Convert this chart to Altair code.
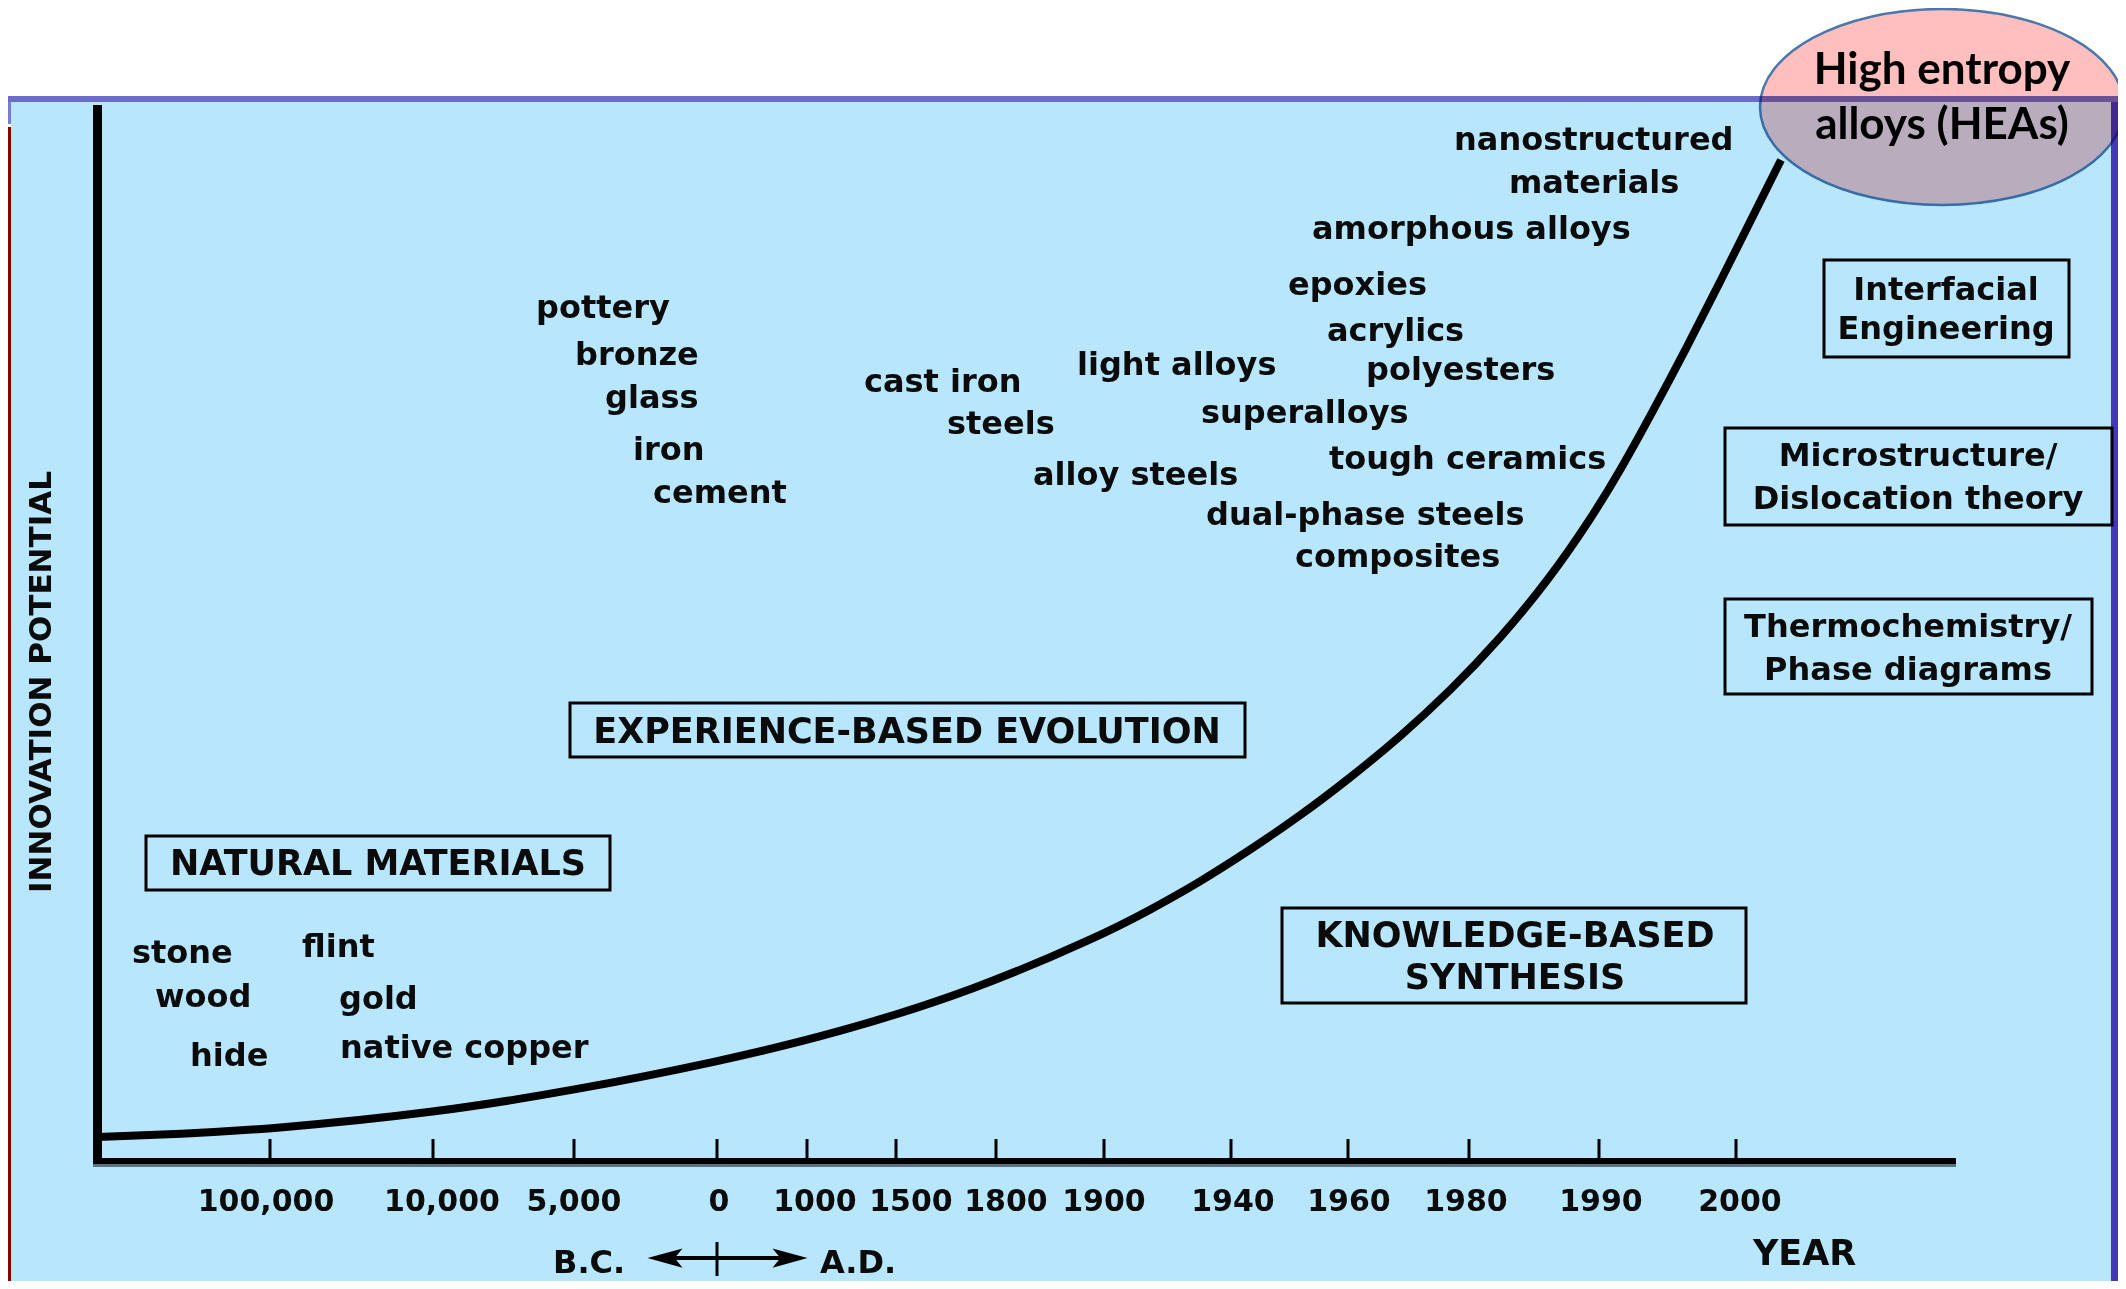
import altair as alt
import pandas as pd

# ---------------- data (positions on the diagram, in reference-picture units) -------------
tick_labels = ["100,000", "10,000", "5,000", "0", "1000", "1500", "1800",
               "1900", "1940", "1960", "1980", "1990", "2000"]
tick_x = [270, 433, 574, 717, 807, 896, 996, 1104, 1231, 1348, 1469, 1599, 1736]
tick_label_x = [266, 442, 574, 719, 815, 911, 1006, 1104, 1233, 1349, 1466, 1601, 1740]

curve_x = [97, 180, 271, 434, 576, 717, 838, 975, 1100, 1150, 1200, 1250, 1300,
           1350, 1400, 1450, 1500, 1550, 1590, 1620, 1653, 1687, 1720, 1753, 1781]
curve_y = [1137, 1134, 1129, 1113, 1090, 1062, 1033, 990, 936, 910, 882, 850, 816,
           778, 737, 691, 639, 578, 520, 471, 411, 347, 282, 216, 160]

item_labels = ["pottery", "bronze", "glass", "iron", "cement", "cast iron", "steels",
               "light alloys", "alloy steels", "superalloys", "epoxies", "acrylics",
               "polyesters", "tough ceramics", "dual-phase steels", "composites",
               "nanostructured", "materials", "amorphous alloys",
               "stone", "wood", "hide", "flint", "gold", "native copper"]
item_x = [536, 575, 605, 633, 653, 864, 947,
          1077, 1033, 1201, 1288, 1327,
          1366, 1329, 1206, 1295,
          1454, 1509, 1312,
          132, 155, 190, 302, 339, 340]
item_y = [318, 365, 408, 460, 503, 392, 434,
          375, 485, 423, 295, 341,
          380, 469, 525, 567,
          150, 193, 239,
          963, 1007, 1066, 957, 1009, 1058]

# era boxes (left, right, top, bottom)
box_x1 = [146, 570, 1282, 1824, 1725, 1725]
box_x2 = [610, 1245, 1746, 2069, 2112, 2092]
box_y1 = [836, 703, 908, 260, 428, 599]
box_y2 = [890, 757, 1003, 357, 525, 694]

era_labels = ["NATURAL MATERIALS", "EXPERIENCE-BASED EVOLUTION",
              "KNOWLEDGE-BASED", "SYNTHESIS"]
era_x = [378, 907, 1515, 1515]
era_y = [875, 743, 947, 989]

theory_labels = ["Interfacial", "Engineering", "Microstructure/", "Dislocation theory",
                 "Thermochemistry/", "Phase diagrams"]
theory_x = [1946, 1946, 1918, 1918, 1908, 1908]
theory_y = [300, 339, 466, 509, 637, 680]

hea_labels = ["High entropy", "alloys (HEAs)"]
hea_x = [1942, 1942]
hea_y = [84, 139]

# ---------------- scales -------------
W, H = 2110, 1273
X0, Y0 = 8, 8
xs = alt.Scale(domain=[X0, X0 + W], nice=False, zero=False)
ys = alt.Scale(domain=[Y0, Y0 + H], nice=False, zero=False, reverse=True)


def X(f):
    return alt.X(f"{f}:Q", scale=xs, axis=None)


def Y(f):
    return alt.Y(f"{f}:Q", scale=ys, axis=None)


FONT = "DejaVu Sans"
INK = "#0b0b0b"


def rect(x1, x2, y1, y2, **kw):
    df = pd.DataFrame({"x": [x1], "x2": [x2], "y": [y1], "y2": [y2]})
    return alt.Chart(df).mark_rect(**kw).encode(x=X("x"), x2="x2", y=Y("y"), y2="y2")


def hrule(x1, x2, y, **kw):
    df = pd.DataFrame({"x": [x1], "x2": [x2], "y": [y]})
    return alt.Chart(df).mark_rule(**kw).encode(x=X("x"), x2="x2", y=Y("y"))


def vrule(x, y1, y2, **kw):
    df = pd.DataFrame({"x": [x], "y": [y1], "y2": [y2]})
    return alt.Chart(df).mark_rule(**kw).encode(x=X("x"), y=Y("y"), y2="y2")


def texts(labels, xv, yv, **kw):
    df = pd.DataFrame({"t": labels, "x": xv, "y": yv})
    return alt.Chart(df).mark_text(**kw).encode(x=X("x"), y=Y("y"), text="t:N")


layers = []

# slide background and frame
layers.append(rect(11, 2118, 102, 1281, color="#b8e6fc"))
layers.append(rect(8, 2118, 96, 102, color="#6c6cc9"))
layers.append(rect(8, 11, 102, 124, color="#7b7bd2"))
layers.append(rect(8, 11, 127, 1281, color="#8b0000"))
layers.append(rect(2111, 2118, 102, 1281, color="#4338b6"))

# HEA ellipse
ELL = "M-1,0A1,0.5385,0,1,0,1,0A1,0.5385,0,1,0,-1,0Z"
layers.append(
    alt.Chart(pd.DataFrame({"x": [1942], "y": [107]}))
    .mark_point(shape=ELL, size=364 ** 2, filled=True, fill="#ffbfbf",
                stroke="#4a78aa", strokeWidth=2.5, opacity=1, fillOpacity=1,
                blend="multiply")
    .encode(x=X("x"), y=Y("y"))
)

# axes
layers.append(hrule(93, 1956, 1165.5, color="#5b7080", strokeWidth=3))
layers.append(hrule(93, 1956, 1161, color="black", strokeWidth=6))
layers.append(vrule(97.5, 105, 1164, color="black", strokeWidth=9))

ticks_df = pd.DataFrame({"x": tick_x})
layers.append(
    alt.Chart(ticks_df).mark_rule(color="black", strokeWidth=3)
    .encode(x=X("x"), y=alt.Y("a:Q", scale=ys, axis=None), y2="b:Q")
    .transform_calculate(a="1139", b="1158")
)
layers.append(texts(tick_labels, tick_label_x, [1211] * len(tick_labels),
                    align="center", baseline="alphabetic", font=FONT,
                    fontWeight="bold", fontSize=30, color=INK))

# the innovation curve
curve_df = pd.DataFrame({"x": curve_x, "y": curve_y})
layers.append(
    alt.Chart(curve_df).mark_line(color="black", strokeWidth=8, interpolate="basis")
    .encode(x=X("x"), y=Y("y"), order="x:Q")
)

# boxes
box_df = pd.DataFrame({"x": box_x1, "x2": box_x2, "y": box_y1, "y2": box_y2})
layers.append(
    alt.Chart(box_df).mark_rect(fill="white", fillOpacity=0, stroke="black", strokeWidth=3)
    .encode(x=X("x"), x2="x2", y=Y("y"), y2="y2")
)

# labels
layers.append(texts(item_labels, item_x, item_y, align="left", baseline="alphabetic",
                    font=FONT, fontWeight="bold", fontSize=32, color=INK))
layers.append(texts(era_labels, era_x, era_y, align="center", baseline="alphabetic",
                    font=FONT, fontWeight="bold", fontSize=35, color=INK))
layers.append(texts(theory_labels, theory_x, theory_y, align="center", baseline="alphabetic",
                    font=FONT, fontWeight="bold", fontSize=32, color=INK))
layers.append(texts(hea_labels, hea_x, hea_y, align="center", baseline="alphabetic",
                    font="Lato", fontWeight="bold", fontSize=44, color="black"))

# axis titles
layers.append(texts(["INNOVATION POTENTIAL"], [51], [682], align="center",
                    baseline="alphabetic", angle=270, font=FONT, fontWeight="bold",
                    fontSize=31, color=INK))
layers.append(texts(["YEAR"], [1753], [1265], align="left", baseline="alphabetic",
                    font=FONT, fontWeight="bold", fontSize=35, color=INK))
layers.append(texts(["B.C.", "A.D."], [553, 820], [1273, 1273], align="left",
                    baseline="alphabetic", font=FONT, fontWeight="bold",
                    fontSize=32, color=INK))

# B.C. <-> A.D. arrow
ARROW_Y = 1258
layers.append(hrule(662, 793, ARROW_Y, color="black", strokeWidth=4))
layers.append(vrule(717, 1242, 1276, color="black", strokeWidth=3))
ARROW_L = "M-1,0L1,-0.55L0.55,0L1,0.55Z"
ARROW_R = "M1,0L-1,-0.55L-0.55,0L-1,0.55Z"
layers.append(
    alt.Chart(pd.DataFrame({"x": [665], "y": [ARROW_Y]}))
    .mark_point(shape=ARROW_L, size=35 ** 2, filled=True, color="black", opacity=1)
    .encode(x=X("x"), y=Y("y"))
)
layers.append(
    alt.Chart(pd.DataFrame({"x": [790], "y": [ARROW_Y]}))
    .mark_point(shape=ARROW_R, size=35 ** 2, filled=True, color="black", opacity=1)
    .encode(x=X("x"), y=Y("y"))
)

chart = (
    alt.layer(*layers)
    .properties(width=W, height=H, padding=0, autosize="none", background="white")
    .configure_view(stroke=None)
)

chart.save("out.html", embed_options={"renderer": "svg", "actions": False})
